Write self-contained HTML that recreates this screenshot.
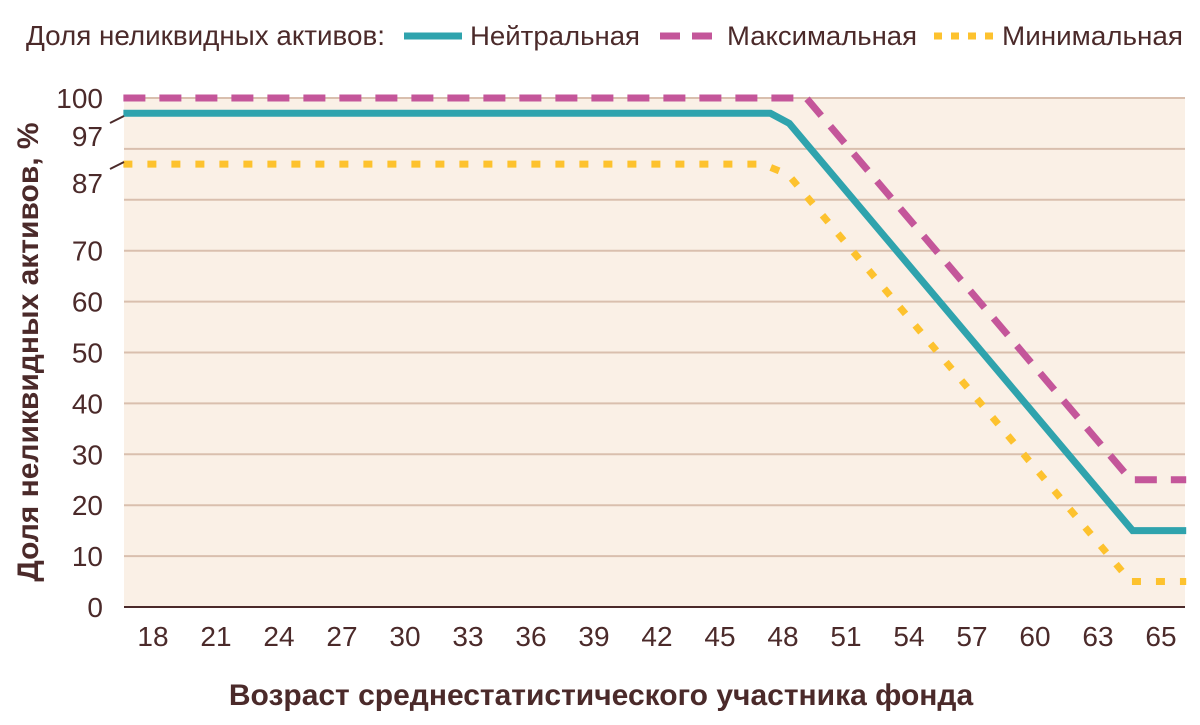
<!DOCTYPE html>
<html><head><meta charset="utf-8"><style>
body{margin:0;background:#fff;font-family:"Liberation Sans",sans-serif;}
svg text{font-family:"Liberation Sans",sans-serif;fill:#4b2a2a;}
</style></head><body>
<svg id="c" width="1200" height="720">
<rect x="124" y="98" width="1061" height="509" fill="#faf0e6"/>
<g id="grid"></g><g id="yt"></g><g id="xt"></g><g id="lines"></g>
<line x1="124" y1="607" x2="1185" y2="607" stroke="#4b2a2a" stroke-width="2"/>
<line x1="110" y1="123" x2="124" y2="116" stroke="#4b2a2a" stroke-width="2"/>
<line x1="110" y1="169" x2="124" y2="162" stroke="#4b2a2a" stroke-width="2"/>
<text x="38" y="352" font-size="30" font-weight="bold" text-anchor="middle" transform="rotate(-90 38 352)">Доля неликвидных активов, %</text>
<text x="601" y="705" font-size="30" font-weight="bold" text-anchor="middle">Возраст среднестатистического участника фонда</text>
<g>
<text x="26" y="45" font-size="28" textLength="359" lengthAdjust="spacingAndGlyphs">Доля неликвидных активов:</text>
<g><line x1="404" y1="36" x2="462" y2="36" stroke="#2fa3ad" stroke-width="7"/><text x="470" y="45" font-size="27" textLength="170" lengthAdjust="spacingAndGlyphs">Нейтральная</text></g>
<g><line x1="660" y1="36" x2="720" y2="36" stroke="#c4569a" stroke-width="7" stroke-dasharray="20 12"/><text x="727" y="45" font-size="27" textLength="190" lengthAdjust="spacingAndGlyphs">Максимальная</text></g>
<g><line x1="934" y1="36" x2="995" y2="36" stroke="#fdc22e" stroke-width="7" stroke-dasharray="8 9"/><text x="1002" y="45" font-size="27" textLength="181" lengthAdjust="spacingAndGlyphs">Минимальная</text></g>
</g>
</svg>
<script>
const categories=["18","21","24","27","30","33","36","39","42","45","48","51","54","57","60","63","65"];
const yTicks=[0,10,20,30,40,50,60,70,87,97,100];
const yTickLabelPos=[0,10,20,30,40,50,60,70,83.3,92.5,100];
const gridValues=[10,20,30,40,50,60,70,80,90,100];
const neutralX=[-0.47,9.8,10.1,15.55,16.4];
const neutralY=[97,97,95,15,15];
const maxX=[-0.47,10.37,15.52,16.4];
const maxY=[100,100,25,25];
const minX=[-0.47,9.67,10.08,15.52,16.4];
const minY=[87,87,85,5,5];
const NS="http://www.w3.org/2000/svg";
const x=i=>153+63*i;
const y=v=>607-5.09*v;
function mk(t,p,a){const e=document.createElementNS(NS,t);for(const k in a)e.setAttribute(k,a[k]);p.appendChild(e);return e;}
const grid=document.getElementById('grid');
gridValues.forEach(v=>{const l=mk('line',grid,{x1:124,x2:1185,y1:y(v),y2:y(v),stroke:'#d9bfae','stroke-width':2});

});
const yt=document.getElementById('yt');
yTicks.forEach((v,i)=>{const t=mk('text',yt,{x:103,y:y(yTickLabelPos[i])+10,'font-size':28,'text-anchor':'end'});t.textContent=v;

});
const xt=document.getElementById('xt');
categories.forEach((c,i)=>{const t=mk('text',xt,{x:x(i),y:646,'font-size':28,'text-anchor':'middle'});t.textContent=c;

});
const lg=document.getElementById('lines');
function line(xs,ys,col,dash,name){const p=mk('polyline',lg,{points:xs.map((v,i)=>x(v)+','+y(ys[i])).join(' '),fill:'none',stroke:col,'stroke-width':7,'stroke-dasharray':dash});

}
line(maxX,maxY,'#c4569a','22 14','series-max');
line(minX,minY,'#fdc22e','9 15','series-min');
line(neutralX,neutralY,'#2fa3ad','none','series-neutral');
</script>
</body></html>
